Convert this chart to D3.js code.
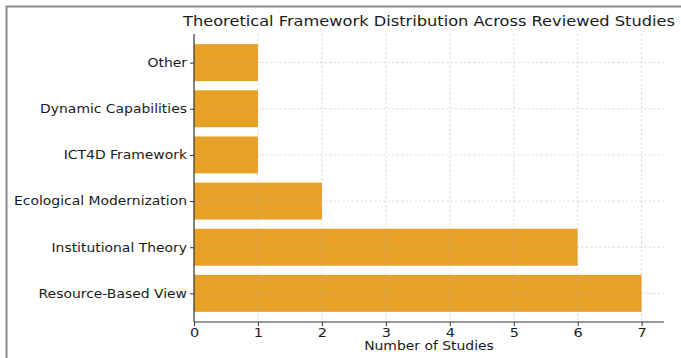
<!DOCTYPE html>
<html>
<head>
<meta charset="utf-8">
<script src="https://cdn.jsdelivr.net/npm/d3@7"></script>
<style>
  html, body { margin: 0; padding: 0; background: #fff; }
  svg { display: block; }
  text { font-family: "DejaVu Sans", sans-serif; fill: #1a1a1a; }
</style>
</head>
<body>
<script>
// Frameworks listed bottom-to-top as they stack on the axis
const frameworks = [
  "Resource-Based View",
  "Institutional Theory",
  "Ecological Modernization",
  "ICT4D Framework",
  "Dynamic Capabilities",
  "Other"
];
const studyCounts = [7, 6, 2, 1, 1, 1];
const xTicks = [0, 1, 2, 3, 4, 5, 6, 7];

const chartTitle = "Theoretical Framework Distribution Across Reviewed Studies";
const xTitle = "Number of Studies";

const W = 681, H = 358;
const plot = { left: 194, right: 664, top: 34, bottom: 322 };
const stretch = 1.16; // horizontal widening applied to all labels

const svg = d3.select("body").append("svg")
  .attr("width", W).attr("height", H);

// outer frame (top and left edges)
svg.append("path")
  .attr("d", `M6.5,${H} L6.5,6.5 L${W},6.5`)
  .attr("fill", "none")
  .attr("stroke", "#8a8a8a")
  .attr("stroke-width", 2);

const x = d3.scaleLinear().domain([0, 7.35]).range([plot.left, plot.right]);
const y = d3.scaleLinear().domain([-0.62, 5.62]).range([plot.bottom, plot.top]);
const barH = 0.8 * (y(0) - y(1));

// bars
svg.append("g").selectAll("rect")
  .data(frameworks)
  .join("rect")
  .attr("x", x(0))
  .attr("y", (d, i) => y(i) - barH / 2)
  .attr("width", (d, i) => x(studyCounts[i]) - x(0))
  .attr("height", barH)
  .attr("fill", "#e6a126");

// dashed grid drawn over the bars
const grid = svg.append("g")
  .attr("stroke", "#b0b0b0")
  .attr("stroke-opacity", 0.55)
  .attr("stroke-width", 0.8)
  .attr("stroke-dasharray", "2.5,2");
grid.selectAll("line.v")
  .data(xTicks.slice(1))
  .join("line")
  .attr("x1", d => x(d)).attr("x2", d => x(d))
  .attr("y1", plot.top).attr("y2", plot.bottom);
grid.selectAll("line.h")
  .data(frameworks)
  .join("line")
  .attr("x1", plot.left).attr("x2", plot.right)
  .attr("y1", (d, i) => y(i)).attr("y2", (d, i) => y(i));

// x axis
const xAxis = d3.axisBottom(x).tickValues(xTicks).tickFormat(d3.format("d"))
  .tickSize(4).tickPadding(2);
const gx = svg.append("g")
  .attr("transform", `translate(0,${plot.bottom})`)
  .call(xAxis);
gx.select(".domain").attr("stroke", "#333").attr("stroke-width", 1.2)
  .attr("d", `M${plot.left},0H${plot.right}`);
gx.selectAll(".tick line").attr("stroke", "#333");
gx.selectAll(".tick text").attr("font-size", 12.5).attr("fill", "#1a1a1a")
  .attr("font-family", "DejaVu Sans, sans-serif")
  .attr("transform", `scale(${stretch},1)`);

// y axis
const yAxis = d3.axisLeft(y).tickValues(d3.range(frameworks.length))
  .tickFormat(i => frameworks[i]).tickSize(4).tickPadding(3);
const gy = svg.append("g")
  .attr("transform", `translate(${plot.left},0)`)
  .call(yAxis);
gy.select(".domain").attr("stroke", "#333").attr("stroke-width", 1.2)
  .attr("d", `M0,${plot.top}V${plot.bottom}`);
gy.selectAll(".tick line").attr("stroke", "#333");
gy.selectAll(".tick text").attr("font-size", 12).attr("fill", "#1a1a1a")
  .attr("font-family", "DejaVu Sans, sans-serif")
  .attr("x", -7 / stretch)
  .attr("transform", `scale(${stretch},1)`);

// axis title
svg.append("text")
  .attr("transform", `translate(${(plot.left + plot.right) / 2},350) scale(${stretch},1)`)
  .attr("text-anchor", "middle")
  .attr("font-size", 12)
  .text(xTitle);

// chart title
svg.append("text")
  .attr("transform", `translate(${(plot.left + plot.right) / 2},26) scale(1.12,1)`)
  .attr("text-anchor", "middle")
  .attr("font-size", 14.5)
  .text(chartTitle);
</script>
</body>
</html>
